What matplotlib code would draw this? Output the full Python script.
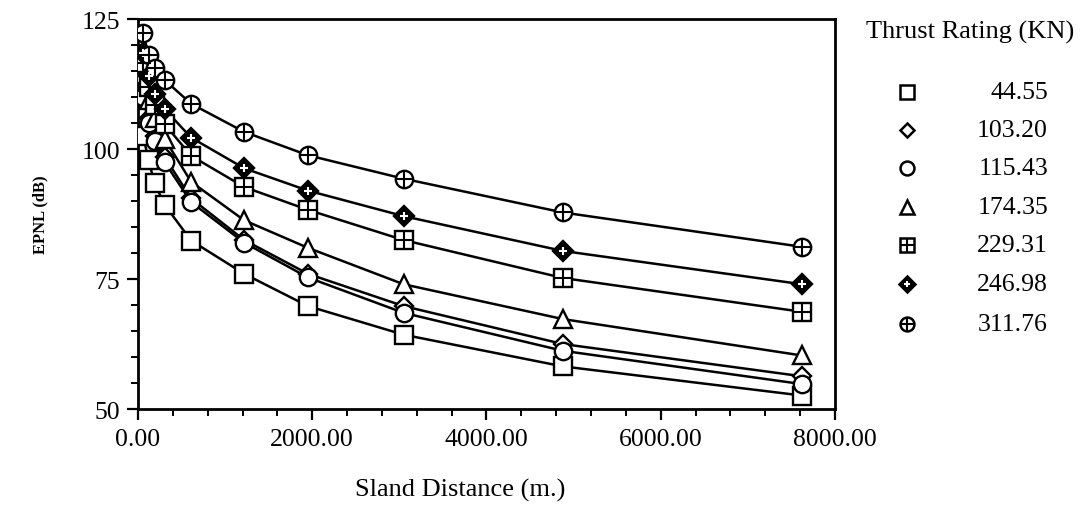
import matplotlib
matplotlib.use("Agg")
import matplotlib.pyplot as plt
from matplotlib.lines import Line2D
import numpy as np

plt.rcParams['font.family'] = ['Liberation Serif', 'DejaVu Serif']

distance = [61, 122, 192, 305, 610, 1219, 1951, 3048, 4877, 7620]
thrust_labels = ["44.55", "103.20", "115.43", "174.35", "229.31", "246.98", "311.76"]

epnl_44_55 = [102.5, 97.8, 93.4, 89.3, 82.4, 76.0, 69.8, 64.3, 58.2, 52.6]
epnl_103_20 = [111.0, 106.0, 102.5, 98.5, 90.5, 82.5, 76.0, 69.8, 62.5, 56.3]
epnl_115_43 = [110.0, 105.0, 101.5, 97.5, 89.8, 82.0, 75.3, 68.5, 61.2, 54.8]
epnl_174_35 = [114.5, 109.5, 106.0, 102.0, 93.7, 86.3, 81.0, 74.0, 67.3, 60.3]
epnl_229_31 = [116.5, 112.0, 108.5, 104.8, 98.7, 92.7, 88.3, 82.5, 75.2, 68.7]
epnl_246_98 = [118.5, 114.0, 110.5, 107.7, 102.2, 96.3, 92.0, 87.1, 80.4, 74.0]
epnl_311_76 = [122.3, 118.0, 115.5, 113.3, 108.7, 103.3, 98.8, 94.3, 87.8, 81.2]

series = [epnl_44_55, epnl_103_20, epnl_115_43, epnl_174_35,
          epnl_229_31, epnl_246_98, epnl_311_76]

# (base marker, base facecolor, overlay marker, overlay color, size scale)
styles = [
    ('s', 'white', None, None, 1.0),
    ('D', 'white', None, None, 0.75),
    ('o', 'white', None, None, 1.0),
    ('^', 'white', None, None, 1.0),
    ('s', 'white', '+', 'black', 1.0),
    ('D', 'black', '+', 'white', 0.8),
    ('o', 'white', '+', 'black', 1.0),
]

fig = plt.figure(figsize=(10.88, 5.10), dpi=100)
ax = fig.add_axes([0.1268, 0.196, 0.6407, 0.7647])

ms = 12.5
for vals, (m, fc, om, oc, sc) in zip(series, styles):
    ax.plot(distance, vals, color='black', lw=1.8, zorder=2)
    ax.plot(distance, vals, ls='none', marker=m, ms=ms * sc, mfc=fc,
            mec='black', mew=1.7, zorder=3)
    if om:
        ax.plot(distance, vals, ls='none', marker=om,
                ms=ms * sc * (0.95 if oc == 'black' else 0.6),
                mec=oc, mew=1.5, zorder=4)

ax.set_xlim(0, 8000)
ax.set_ylim(50, 125)
ax.set_xticks([0, 2000, 4000, 6000, 8000])
ax.set_xticklabels(["0.00", "2000.00", "4000.00", "6000.00", "8000.00"])
ax.set_xticks(np.arange(0, 8001, 400), minor=True)
ax.set_yticks([50, 75, 100, 125])
ax.set_yticks(np.arange(50, 126, 5), minor=True)
ax.tick_params(axis='both', which='major', direction='out', length=8, width=1.6,
               labelsize=18.5)
ax.tick_params(axis='x', which='major', pad=6)
ax.tick_params(axis='y', which='major', pad=5)
ax.tick_params(axis='both', which='minor', direction='out', length=5, width=1.4)
for s in ax.spines.values():
    s.set_linewidth(2.0)

ax.set_xlabel("Sland Distance (m.)", fontsize=19, va='center')
ax.xaxis.set_label_coords(0.462, -0.205)
ax.set_ylabel("EPNL (dB)", fontsize=12, fontweight='bold', labelpad=24)

# legend (custom, drawn in figure coordinates)
fig.text(970 / 1088, 1 - 32 / 510, "Thrust Rating (KN)", ha='center', va='center', fontsize=19)
row_y = [93, 131, 169, 208, 246, 285, 325]
for lab, (m, fc, om, oc, sc), yy in zip(thrust_labels, styles, row_y):
    fx, fy = 907 / 1088, 1 - yy / 510
    fig.lines.append(Line2D([fx], [fy], transform=fig.transFigure,
                            marker=m, ms=10 * sc, mfc=fc, mec='black', mew=1.8, ls='none'))
    if om:
        fig.lines.append(Line2D([fx], [fy], transform=fig.transFigure,
                                marker=om, ms=10 * sc * (0.95 if oc == 'black' else 0.6),
                                mec=oc, mew=1.5, ls='none'))
    fig.text(1048 / 1088, fy, lab, ha='right', va='center', fontsize=18.5)

fig.savefig("out.png", dpi=100, facecolor='white')
